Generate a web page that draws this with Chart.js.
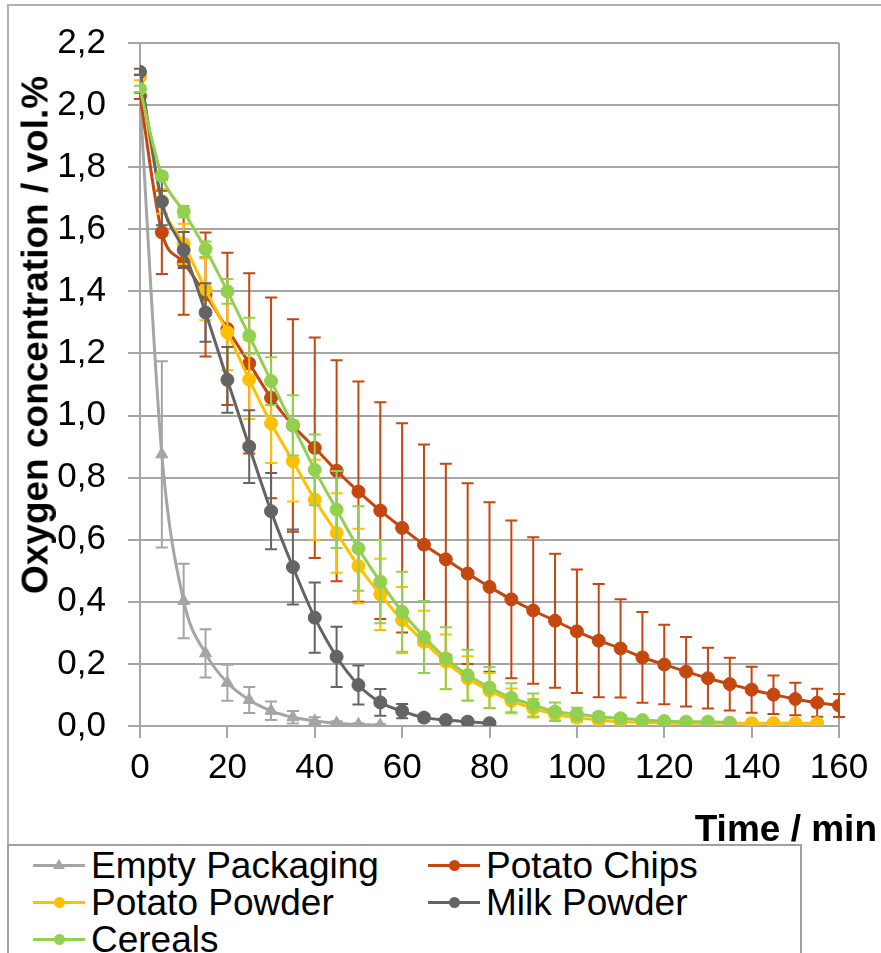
<!DOCTYPE html>
<html>
<head>
<meta charset="utf-8">
<script src="https://cdn.jsdelivr.net/npm/chart.js@4.4.1/dist/chart.umd.min.js"></script>
<style>
  body { margin: 0; background: #fff; font-family: "Liberation Sans", Arial, sans-serif; }
  #wrap { position: relative; width: 881px; height: 953px; overflow: hidden; }
  #frame { position: absolute; left: 7px; top: 4px; width: 900px; height: 1000px;
           border-left: 2px solid #b0b0b0; border-top: 2px solid #b0b0b0; }
  canvas { position: absolute; left: 0; top: 0; }
  #ytitle { position: absolute; left: 35px; top: 335px; transform: translate(-50%, -50%) rotate(-90deg);
            font-weight: bold; font-size: 37px; white-space: nowrap; color: #000; line-height: 1; }
  #xtitle { position: absolute; right: 4px; top: 810px; font-weight: bold; font-size: 37px;
            line-height: 1; white-space: nowrap; color: #000; }
  #legend { position: absolute; left: 7px; top: 844px; width: 791px; height: 200px;
            border: 2px solid #a0a0a0; background: #fff; }
  .item { position: absolute; height: 37px; display: flex; align-items: center;
          font-size: 37px; white-space: nowrap; color: #000; }
  .sample { position: relative; width: 52px; height: 37px; margin-right: 6px; }
  .sample .ln { position: absolute; left: 0; right: 0; top: 17px; height: 3px; }
  .sample .dot { position: absolute; left: 21px; top: 13px; width: 11px; height: 11px; border-radius: 50%; }
  .sample .tri { position: absolute; left: 20px; top: 12px; width: 0; height: 0;
                 border-left: 6px solid transparent; border-right: 6px solid transparent; border-bottom: 10px solid; }
</style>
</head>
<body>
<div id="wrap">
  <div id="frame"></div>
  <canvas id="grafica" width="881" height="953"></canvas>
  <div id="ytitle">Oxygen concentration / vol.%</div>
  <div id="xtitle">Time / min</div>
  <div id="legend"></div>
</div>
<script>
var xTickLabels = ['0', '20', '40', '60', '80', '100', '120', '140', '160'];
var yTickLabels = ['0,0', '0,2', '0,4', '0,6', '0,8', '1,0', '1,2', '1,4', '1,6', '1,8', '2,0', '2,2'];

// measurements every 5 minutes
var tiempo = [0, 5, 10, 15, 20, 25, 30, 35, 40, 45, 50, 55, 60, 65, 70, 75, 80,
  85, 90, 95, 100, 105, 110, 115, 120, 125, 130, 135, 140, 145, 150, 155, 160];

var nombres = ['Empty Packaging', 'Potato Chips', 'Potato Powder', 'Milk Powder', 'Cereals'];
var colores = ['#a5a5a5', '#c4470f', '#ffc000', '#646464', '#92d050'];

var emptyPackaging = [2.02, 0.875, 0.403, 0.234, 0.139, 0.084, 0.049, 0.028, 0.016, 0.009, 0.005, 0.003];
var emptyPackagingErr = [0.0, 0.30, 0.12, 0.078, 0.058, 0.042, 0.03, 0.02, 0.012, 0.006, 0.004, 0.003];

var potatoChips = [2.03, 1.59, 1.493, 1.39, 1.279, 1.168, 1.057, 0.968, 0.896, 0.822, 0.755, 0.694,
  0.638, 0.584, 0.537, 0.491, 0.448, 0.408, 0.372, 0.339, 0.305, 0.275, 0.25, 0.221, 0.198,
  0.175, 0.154, 0.135, 0.117, 0.101, 0.087, 0.075, 0.066];
var potatoChipsErr = [0.01, 0.134, 0.168, 0.2, 0.245, 0.29, 0.323, 0.342, 0.355, 0.356, 0.355, 0.349,
  0.337, 0.323, 0.308, 0.291, 0.273, 0.254, 0.236, 0.216, 0.199, 0.182, 0.158, 0.146, 0.128,
  0.112, 0.098, 0.085, 0.074, 0.062, 0.052, 0.045, 0.037];

var potatoPowder = [2.09, 1.69, 1.553, 1.407, 1.268, 1.116, 0.975, 0.853, 0.729, 0.622, 0.515, 0.424,
  0.341, 0.271, 0.207, 0.153, 0.114, 0.081, 0.057, 0.038, 0.027, 0.019, 0.014, 0.012, 0.01,
  0.009, 0.009, 0.009, 0.009, 0.009, 0.009, 0.009];
var potatoPowderErr = [0.01, 0.04, 0.065, 0.1, 0.122, 0.127, 0.128, 0.13, 0.129, 0.128, 0.12, 0.115,
  0.107, 0.1, 0.088, 0.072, 0.057, 0.04, 0.03, 0.02, 0.014, 0.01, 0.006, 0.006, 0.006,
  0.006, 0.006, 0.006, 0.006, 0.006, 0.006, 0.006];

var milkPowder = [2.107, 1.689, 1.533, 1.332, 1.115, 0.9, 0.692, 0.512, 0.349, 0.223, 0.132, 0.076,
  0.048, 0.027, 0.019, 0.014, 0.009];
var milkPowderErr = [0.01, 0.076, 0.058, 0.094, 0.106, 0.117, 0.123, 0.121, 0.113, 0.097, 0.063, 0.043,
  0.023, 0.01, 0.006, 0.004, 0.003];

var cereals = [2.052, 1.771, 1.657, 1.536, 1.40, 1.257, 1.111, 0.968, 0.825, 0.697, 0.572, 0.465,
  0.368, 0.287, 0.218, 0.164, 0.124, 0.091, 0.068, 0.046, 0.039, 0.03, 0.025, 0.019, 0.016,
  0.014, 0.014, 0.011];
var cerealsErr = [0.01, 0.012, 0.018, 0.025, 0.04, 0.058, 0.077, 0.097, 0.114, 0.124, 0.136, 0.134,
  0.129, 0.116, 0.1, 0.082, 0.066, 0.047, 0.037, 0.03, 0.02, 0.012, 0.01, 0.006, 0.006,
  0.006, 0.006, 0.006];

var series = [emptyPackaging, potatoChips, potatoPowder, milkPowder, cereals];
var errores = [emptyPackagingErr, potatoChipsErr, potatoPowderErr, milkPowderErr, cerealsErr];

var GRID = '#a6a6a6';
var FUENTE = '"Liberation Sans", Arial, sans-serif';

function puntos(valores) {
  var res = [];
  for (var i = 0; i < valores.length; i++) {
    res.push({ x: tiempo[i], y: valores[i] });
  }
  return res;
}

// vertical error bars, drawn through the y scale
var barrasError = {
  id: 'barrasError',
  beforeDatasetDraw: function(chart, args) {
    var ds = chart.data.datasets[args.index];
    var meta = args.meta;
    var escalaY = chart.scales.y;
    var ctx = chart.ctx;
    ctx.save();
    ctx.strokeStyle = ds.borderColor;
    ctx.lineWidth = 2;
    for (var i = 0; i < meta.data.length; i++) {
      var p = meta.data[i];
      var v = ds.data[i].y;
      var e = ds.errores[i];
      var arriba = escalaY.getPixelForValue(v + e);
      var abajo = escalaY.getPixelForValue(Math.max(v - e, 0));
      ctx.beginPath();
      ctx.moveTo(p.x, arriba);
      ctx.lineTo(p.x, abajo);
      ctx.moveTo(p.x - 6, arriba);
      ctx.lineTo(p.x + 6, arriba);
      ctx.moveTo(p.x - 6, abajo);
      ctx.lineTo(p.x + 6, abajo);
      ctx.stroke();
    }
    ctx.restore();
  }
};

function crearGrafica() {
  var datasets = [];
  for (var i = 0; i < series.length; i++) {
    datasets.push({
      label: nombres[i],
      data: puntos(series[i]),
      errores: errores[i],
      borderColor: colores[i],
      backgroundColor: colores[i],
      borderWidth: 3,
      pointRadius: i == 0 ? 7 : 6.5,
      pointBorderWidth: 1,
      pointStyle: i == 0 ? 'triangle' : 'circle',
      cubicInterpolationMode: 'monotone',
      order: series.length - i
    });
  }

  var ctx = document.getElementById('grafica').getContext('2d');
  new Chart(ctx, {
    type: 'line',
    data: { datasets: datasets },
    plugins: [barrasError],
    options: {
      responsive: false,
      animation: false,
      devicePixelRatio: 1,
      layout: { padding: { left: 0, top: 42, right: 42, bottom: 0 } },
      plugins: { legend: { display: false }, tooltip: { enabled: false } },
      scales: {
        x: {
          type: 'linear',
          min: 0, max: 160,
          afterFit: function(scale) { scale.height = 227; },
          ticks: {
            stepSize: 20,
            padding: 9,
            color: '#000',
            font: { family: FUENTE, size: 35 },
            callback: function(v, idx) { return xTickLabels[idx]; }
          },
          grid: {
            color: function(c) { return c.tick && c.tick.value == 160 ? GRID : 'rgba(0,0,0,0)'; },
            tickColor: GRID,
            tickLength: 12,
            lineWidth: 2
          },
          border: { color: GRID, width: 2 }
        },
        y: {
          min: 0, max: 2.2,
          afterFit: function(scale) { scale.width = 140; },
          ticks: {
            stepSize: 0.2,
            padding: 22,
            color: '#000',
            font: { family: FUENTE, size: 35 },
            callback: function(v, idx) { return yTickLabels[idx]; }
          },
          grid: { color: GRID, tickColor: GRID, tickLength: 12, lineWidth: 2 },
          border: { color: GRID, width: 2 }
        }
      }
    }
  });
}

function crearLeyenda() {
  var caja = document.getElementById('legend');
  for (var i = 0; i < nombres.length; i++) {
    var col = i % 2;
    var fila = Math.floor(i / 2);
    var item = document.createElement('div');
    item.className = 'item';
    item.style.left = (col == 0 ? 24 : 419) + 'px';
    item.style.top = (1 + fila * 37) + 'px';
    var marca = i == 0
      ? '<div class="tri" style="border-bottom-color:' + colores[i] + '"></div>'
      : '<div class="dot" style="background:' + colores[i] + '"></div>';
    item.innerHTML = '<div class="sample"><div class="ln" style="background:' + colores[i] + '"></div>' +
      marca + '</div><span>' + nombres[i] + '</span>';
    caja.appendChild(item);
  }
}

window.onload = function() {
  crearGrafica();
  crearLeyenda();
};
</script>
</body>
</html>
